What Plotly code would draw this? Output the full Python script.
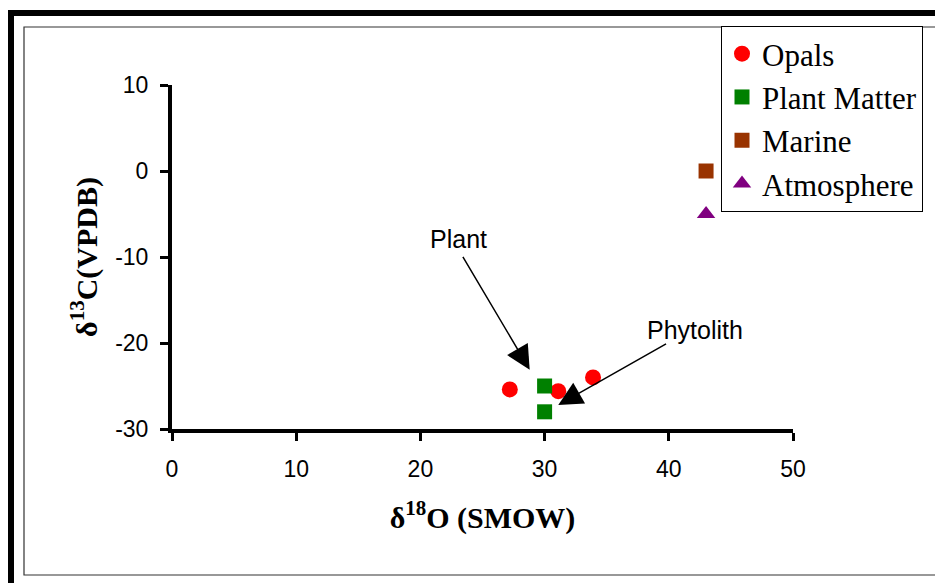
import plotly.graph_objects as go

# Data
opals_x = [27.2, 31.1, 33.9]
opals_y = [-25.4, -25.6, -24.0]
plant_x = [30.0, 30.0]
plant_y = [-25.0, -28.0]
marine_x = [43.0]
marine_y = [0.0]
atmos_x = [43.0]
atmos_y = [-5.0]
x_ticks = [0, 10, 20, 30, 40, 50]
y_ticks = [-30, -20, -10, 0, 10]
y_tick_text = ["-30", "-20", "-10", "0", "10"]

fig = go.Figure()
fig.add_trace(go.Scatter(x=opals_x, y=opals_y, mode="markers", name="Opals",
                         marker=dict(symbol="circle", size=16, color="#ff0000")))
fig.add_trace(go.Scatter(x=plant_x, y=plant_y, mode="markers", name="Plant Matter",
                         marker=dict(symbol="square", size=15, color="#008000")))
fig.add_trace(go.Scatter(x=marine_x, y=marine_y, mode="markers", name="Marine",
                         marker=dict(symbol="square", size=15, color="#993300")))
fig.add_trace(go.Scatter(x=atmos_x, y=atmos_y, mode="markers", name="Atmosphere",
                         marker=dict(symbol="triangle-up", size=16, color="#800080")))

OFF = 8  # page body margin
L, R, T, B = 172, 793, 85, 429  # plot area in screen pixels
W = R - OFF + 150
H = B - OFF + 154

def px(v):
    return (v - L) / (R - L)

def py(v):
    return (B - v) / (B - T)

shapes = [
    dict(type="rect", xref="paper", yref="paper", x0=px(24), x1=px(941), y0=py(575), y1=py(27),
         line=dict(color="#333333", width=1.2)),
    dict(type="line", xref="paper", yref="paper", x0=px(8), x1=px(950), y0=py(13), y1=py(13),
         line=dict(color="black", width=6)),
    dict(type="line", xref="paper", yref="paper", x0=px(11), x1=px(11), y0=py(10), y1=py(600),
         line=dict(color="black", width=6)),
]

annotations = [
    dict(x=23.1, y=-7.9, text="Plant", showarrow=False, font=dict(family="Arial", size=25, color="black")),
    dict(x=42.1, y=-18.5, text="Phytolith", showarrow=False, font=dict(family="Arial", size=25, color="black")),
    dict(x=28.8, y=-23.1, ax=23.35, ay=-9.8, axref="x", ayref="y", xref="x", yref="y", text="",
         showarrow=True, arrowhead=2, arrowsize=3.2, arrowwidth=1.5, arrowcolor="black"),
    dict(x=31.1, y=-27.2, ax=39.9, ay=-20.0, axref="x", ayref="y", xref="x", yref="y", text="",
         showarrow=True, arrowhead=2, arrowsize=3.2, arrowwidth=1.5, arrowcolor="black"),
]

fig.update_layout(
    width=W, height=H,
    margin=dict(l=L - OFF, r=150, t=T - OFF, b=154),
    paper_bgcolor="white", plot_bgcolor="white",
    shapes=shapes, annotations=annotations,
    showlegend=True,
    legend=dict(x=px(721), y=py(26), xanchor="left", yanchor="top",
                bordercolor="black", borderwidth=1, bgcolor="white",
                font=dict(family="Liberation Serif, Times New Roman, serif", size=31, color="black"),
                entrywidth=180, entrywidthmode="pixels",
                tracegroupgap=0),
    xaxis=dict(range=[0, 50], tickvals=x_ticks, showgrid=False, zeroline=False,
               showline=True, linecolor="black", linewidth=4,
               ticks="outside", ticklen=8, tickwidth=3, tickcolor="black",
               ticklabelstandoff=8,
               tickfont=dict(family="Arial", size=23, color="black"),
               title=dict(text="δ<sup>18</sup>O (SMOW)", standoff=27,
                          font=dict(family="Liberation Serif, Times New Roman, serif", size=30, color="black", weight="bold"))),
    yaxis=dict(range=[-30, 10], tickvals=y_ticks, ticktext=y_tick_text, showgrid=False, zeroline=False,
               showline=True, linecolor="black", linewidth=4,
               ticks="outside", ticklen=8, tickwidth=3, tickcolor="black",
               ticklabelstandoff=7,
               tickfont=dict(family="Arial", size=23, color="black"),
               title=dict(text="δ<sup>13</sup>C(VPDB)", standoff=10,
                          font=dict(family="Liberation Serif, Times New Roman, serif", size=30, color="black", weight="bold"))),
)

fig.write_html("out.html")
